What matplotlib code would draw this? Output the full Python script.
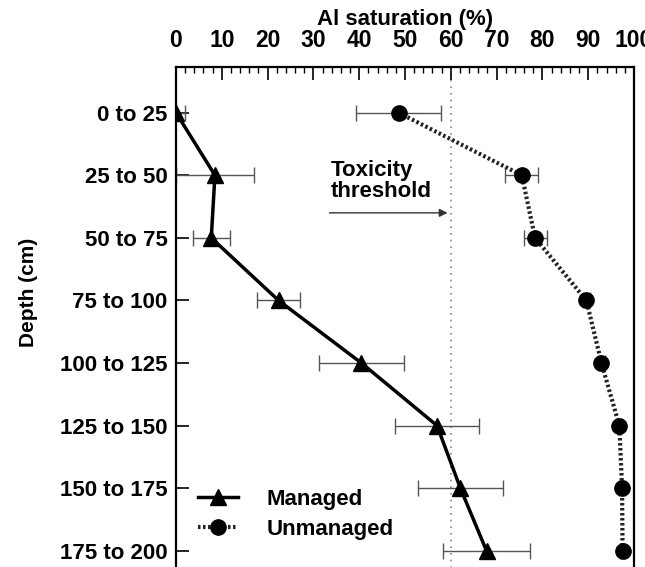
import numpy as np
import matplotlib
matplotlib.use('Agg')
import matplotlib.pyplot as plt
from matplotlib.ticker import MultipleLocator

plt.rcParams['font.family'] = ['Liberation Sans', 'DejaVu Sans']
plt.rcParams['font.weight'] = 'bold'

# ── data
depths = ['0 to 25', '25 to 50', '50 to 75', '75 to 100',
          '100 to 125', '125 to 150', '150 to 175', '175 to 200']
managed = [0.0, 8.5, 7.7, 22.4, 40.5, 57.0, 62.1, 67.8]
managed_err = [2.0, 8.5, 4.0, 4.7, 9.2, 9.2, 9.2, 9.5]
unmanaged = [48.6, 75.5, 78.4, 89.6, 92.9, 96.8, 97.4, 97.5]
unmanaged_err = [9.2, 3.6, 2.5, 0.8, 0.8, 0.6, 0.6, 0.6]
threshold = 60

y = np.arange(len(depths))

fig = plt.figure(figsize=(6.45, 5.67), dpi=100)
ax = fig.add_axes([176 / 645, 1 - 67 / 567 - 508.9 / 567, 458 / 645, 508.9 / 567])

ax.axvline(threshold, color='#888888', linestyle=(0, (1, 3)), linewidth=1.2, zorder=1)

ax.errorbar(managed, y, xerr=managed_err, fmt='none', ecolor='#555555',
            elinewidth=1.0, capsize=5.5, capthick=1.0, zorder=2)
ax.errorbar(unmanaged, y, xerr=unmanaged_err, fmt='none', ecolor='#555555',
            elinewidth=1.0, capsize=5.5, capthick=1.0, zorder=2)

ax.plot(managed, y, color='black', linewidth=2.5, marker='^', markersize=11,
        label='Managed', zorder=3)
ax.plot(unmanaged, y, color='#222222', linewidth=3, linestyle=(0, (0.6, 0.6)),
        marker='o', markersize=11, markerfacecolor='black', markeredgecolor='black',
        label='Unmanaged', zorder=3)

# threshold annotation
ax.annotate('', xy=(59.3, 1.6), xytext=(33.5, 1.6),
            arrowprops=dict(arrowstyle='-|>', color='#333333', lw=1.0,
                            mutation_scale=12, shrinkA=0, shrinkB=0))
ax.text(33.8, 1.42, 'Toxicity\nthreshold', fontsize=16, fontweight='bold',
        ha='left', va='bottom', linespacing=0.95)

ax.set_xlim(0, 100)
ax.set_ylim(7.4, -0.73)
ax.set_yticks(y)
ax.set_yticklabels(depths, fontsize=16, fontweight='bold')
ax.xaxis.tick_top()
ax.xaxis.set_label_position('top')
ax.set_xticks(np.arange(0, 101, 10))
ax.set_xticklabels([str(v) for v in range(0, 101, 10)], fontsize=16.5, fontweight='bold')
ax.xaxis.set_minor_locator(MultipleLocator(2))
ax.tick_params(axis='x', which='major', direction='in', length=9, width=1.2, pad=11)
ax.tick_params(axis='x', which='minor', direction='in', length=4, width=1.0)
ax.tick_params(axis='y', direction='in', length=9, width=1.2, pad=6)
ax.set_xlabel('Al saturation (%)', fontsize=16, fontweight='bold', labelpad=3)

for s in ax.spines.values():
    s.set_linewidth(1.6)

fig.text(28 / 645, 1 - 292 / 567, 'Depth (cm)', rotation=90, fontsize=15,
         fontweight='bold', ha='center', va='center')

ax.legend(loc='upper left', bbox_to_anchor=(0.048, 0.171), frameon=False,
          handlelength=1.8, handletextpad=1.3, labelspacing=0.4,
          borderpad=0, borderaxespad=0, prop={'weight': 'bold', 'size': 16})

fig.savefig('out.png', dpi=100)
